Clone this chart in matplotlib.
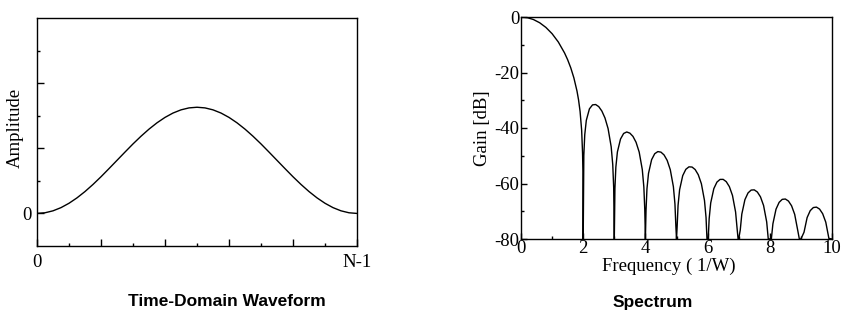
import matplotlib
matplotlib.use('Agg')
import matplotlib.pyplot as plt
import matplotlib.ticker as ticker

# plain hyphen on the dB tick labels, as in the original
matplotlib.rcParams['axes.unicode_minus'] = False

# time domain window (x as fraction of N-1), amplitude
t_pos = [0.0, 0.025, 0.05, 0.075, 0.1, 0.125, 0.15, 0.175, 0.2, 0.225, 0.25,
         0.275, 0.3, 0.325, 0.35, 0.375, 0.4, 0.425, 0.45, 0.475, 0.5,
         0.525, 0.55, 0.575, 0.6, 0.625, 0.65, 0.675, 0.7, 0.725, 0.75,
         0.775, 0.8, 0.825, 0.85, 0.875, 0.9, 0.925, 0.95, 0.975, 1.0]
t_amp = [0.0, 0.010, 0.040, 0.089, 0.156, 0.239, 0.336, 0.445, 0.563, 0.688, 0.815,
         0.942, 1.067, 1.185, 1.294, 1.391, 1.474, 1.541, 1.590, 1.620, 1.630,
         1.620, 1.590, 1.541, 1.474, 1.391, 1.294, 1.185, 1.067, 0.942, 0.815,
         0.688, 0.563, 0.445, 0.336, 0.239, 0.156, 0.089, 0.040, 0.010, 0.0]

# spectrum, frequency in bins (1/W) and gain in dB (nulls floored at -80)
f_bins = [0.0, 0.2, 0.4, 0.6, 0.8, 1.0, 1.2, 1.4, 1.5, 1.6, 1.7, 1.8, 1.85, 1.9, 1.95, 1.98, 1.99, 2.0,
          2.02, 2.05, 2.1, 2.2, 2.3, 2.4, 2.5, 2.6, 2.7, 2.8, 2.9, 2.95, 2.98, 3.0,
          3.02, 3.05, 3.1, 3.2, 3.3, 3.4, 3.5, 3.6, 3.7, 3.8, 3.9, 3.95, 3.98, 4.0,
          4.02, 4.05, 4.1, 4.2, 4.3, 4.4, 4.5, 4.6, 4.7, 4.8, 4.9, 4.95, 4.98, 5.0,
          5.02, 5.05, 5.1, 5.2, 5.3, 5.4, 5.5, 5.6, 5.7, 5.8, 5.9, 5.95, 5.98, 6.0,
          6.02, 6.05, 6.1, 6.2, 6.3, 6.4, 6.5, 6.6, 6.7, 6.8, 6.9, 6.95, 6.98, 7.0,
          7.05, 7.1, 7.2, 7.3, 7.4, 7.5, 7.6, 7.7, 7.8, 7.9, 7.95, 8.0,
          8.05, 8.1, 8.2, 8.3, 8.4, 8.5, 8.6, 8.7, 8.8, 8.9, 8.95, 9.0,
          9.1, 9.2, 9.3, 9.4, 9.5, 9.6, 9.7, 9.8, 9.9, 10.0]
gain_db = [0.0, -0.23, -0.91, -2.07, -3.75, -6.02, -9.01, -12.95, -15.40, -18.32, -21.92, -26.67, -29.83, -34.05, -40.81, -49.23, -55.4, -80,
           -49.86, -42.40, -37.24, -33.10, -31.67, -31.54, -32.30, -33.89, -36.38, -40.21, -46.79, -53.18, -61.40, -80,
           -61.76, -54.09, -48.61, -43.98, -41.97, -41.43, -41.85, -43.02, -45.15, -48.67, -54.98, -61.25, -69.40, -80,
           -69.68, -61.94, -56.35, -51.41, -49.26, -48.50, -48.70, -49.71, -51.67, -55.02, -61.16, -67.36, -75.46, -80,
           -75.67, -67.89, -62.24, -57.17, -54.89, -54.00, -54.07, -54.97, -56.84, -60.08, -66.13, -72.27, -80, -80,
           -80, -72.71, -67.01, -61.86, -59.50, -58.53, -58.51, -59.34, -61.13, -64.31, -70.28, -76.38, -80, -80,
           -76.76, -71.03, -65.82, -63.40, -62.37, -62.29, -63.07, -64.81, -67.93, -73.85, -79.93, -80,
           -80, -74.51, -69.25, -66.79, -65.71, -65.59, -66.33, -68.03, -71.11, -76.99, -80, -80,
           -77.57, -72.28, -69.78, -68.67, -68.51, -69.22, -70.89, -73.94, -79.79, -80]

serif = 'Liberation Serif'
fs = 13.5

fig = plt.figure(figsize=(8.44, 3.2), dpi=100)

# left panel: time-domain waveform
ax1 = fig.add_axes([37 / 844, 1 - 246 / 320, 320 / 844, 228 / 320])
ax1.plot(t_pos, t_amp, color='black', linewidth=1.0)
ax1.set_xlim(0, 1)
ax1.set_ylim(-0.5, 3)
ax1.xaxis.set_major_locator(ticker.FixedLocator([0, 0.2, 0.4, 0.6, 0.8, 1.0]))
ax1.xaxis.set_minor_locator(ticker.FixedLocator([0.1, 0.3, 0.5, 0.7, 0.9]))
ax1.xaxis.set_major_formatter(ticker.FixedFormatter(['0', '', '', '', '', 'N-1']))
ax1.yaxis.set_major_locator(ticker.FixedLocator([0, 1, 2]))
ax1.yaxis.set_minor_locator(ticker.FixedLocator([0.5, 1.5, 2.5]))
ax1.yaxis.set_major_formatter(ticker.FixedFormatter(['0', '', '']))
ax1.tick_params(which='major', direction='in', length=5, width=1, pad=6,
                labelsize=fs, top=False, right=False)
ax1.tick_params(which='minor', direction='in', length=2.5, width=1, top=False, right=False)
ax1.tick_params(axis='y', which='major', pad=4)
ax1.set_ylabel('Amplitude', fontsize=fs, family=serif)
ax1.yaxis.set_label_coords(-0.04, 0.52)
for lab in ax1.get_xticklabels() + ax1.get_yticklabels():
    lab.set_family(serif)

# right panel: spectrum
ax2 = fig.add_axes([521 / 844, 1 - 239 / 320, 311 / 844, 222 / 320])
ax2.plot(f_bins, gain_db, color='black', linewidth=1.0)
ax2.set_xlim(0, 10)
ax2.set_ylim(-80, 0)
ax2.xaxis.set_major_locator(ticker.MultipleLocator(2))
ax2.xaxis.set_minor_locator(ticker.MultipleLocator(1))
ax2.yaxis.set_major_locator(ticker.MultipleLocator(20))
ax2.yaxis.set_minor_locator(ticker.MultipleLocator(10))
ax2.tick_params(which='major', direction='in', length=4.5, width=1, pad=1,
                labelsize=fs, top=False, right=False)
ax2.tick_params(which='minor', direction='in', length=2.2, width=1, top=False, right=False)
ax2.set_xlabel('Frequency ( 1/W)', fontsize=fs, family=serif)
ax2.xaxis.set_label_coords(0.475, -0.085)
ax2.set_ylabel('Gain [dB]', fontsize=fs, family=serif)
ax2.yaxis.set_label_coords(-0.096, 0.5)
for lab in ax2.get_xticklabels() + ax2.get_yticklabels():
    lab.set_family(serif)

for ax in (ax1, ax2):
    for sp in ax.spines.values():
        sp.set_linewidth(1.0)

fig.text(226.5 / 844, 1 - 302 / 320, 'Time-Domain Waveform', ha='center', va='center',
         fontsize=12.5, fontweight='bold', family='Liberation Sans')
fig.text(653 / 844, 1 - 302 / 320, 'Spectrum', ha='center', va='center',
         fontsize=12.5, fontweight='bold', family='Liberation Sans')

fig.savefig('out.png', dpi=100)
